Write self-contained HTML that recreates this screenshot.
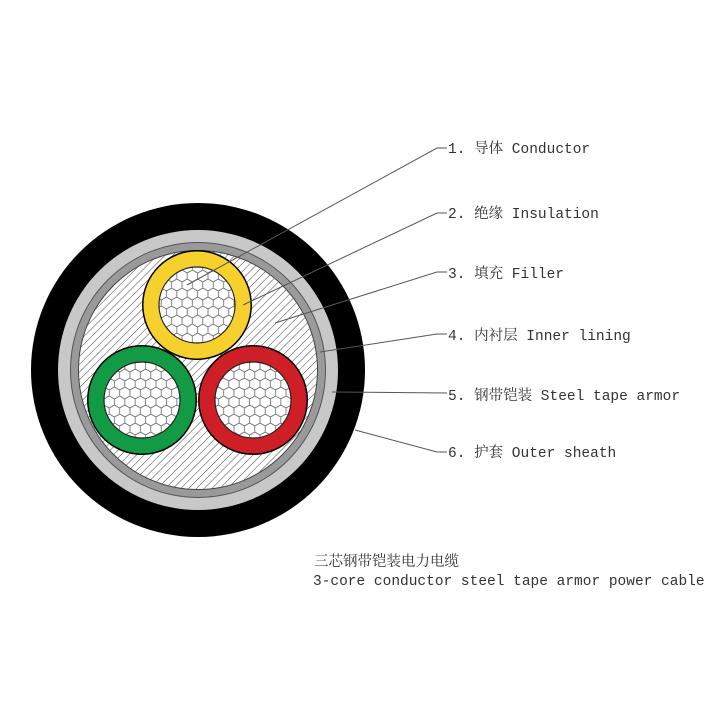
<!DOCTYPE html>
<html><head><meta charset="utf-8"><style>
html,body{margin:0;padding:0;background:#fff;width:720px;height:720px;overflow:hidden}
svg{display:block}
text{font-family:"Liberation Mono","Noto Serif CJK SC","Noto Sans CJK SC",monospace;fill:#333;font-size:14.5px}
</style></head><body>
<svg width="720" height="720" viewBox="0 0 720 720" xmlns="http://www.w3.org/2000/svg">
<defs>
<pattern id="hatch" width="5.5" height="5.5" patternUnits="userSpaceOnUse" patternTransform="rotate(45)">
<rect width="5.5" height="5.5" fill="#fff"/>
<line x1="0" y1="0" x2="0" y2="5.5" stroke="#444" stroke-width="1"/>
</pattern>
<pattern id="hex" width="10.4" height="18" patternUnits="userSpaceOnUse">
<rect width="10.4" height="18" fill="#fff"/>
<path d="M5.2,0 L10.4,3 L10.4,9 L5.2,12 L0,9 L0,3 Z M5.2,12 L5.2,18" fill="none" stroke="#666" stroke-width="0.8"/>
</pattern>
</defs>
<circle cx="198" cy="370" r="167" fill="#000"/>
<circle cx="198" cy="370" r="140" fill="#c8c8c8"/>
<circle cx="198" cy="370" r="128" fill="#555"/>
<circle cx="198" cy="370" r="127" fill="#9a9a9a"/>
<circle cx="198" cy="370" r="120" fill="#444"/>
<circle cx="198" cy="370" r="119" fill="url(#hatch)"/>
<circle cx="197" cy="305" r="55" fill="#000"/>
<circle cx="197" cy="305" r="53.5" fill="#f6d02c"/>
<circle cx="197" cy="305" r="38" fill="url(#hex)" stroke="#222" stroke-width="1.2"/>
<circle cx="142" cy="400" r="55" fill="#000"/>
<circle cx="142" cy="400" r="53.5" fill="#139a44"/>
<circle cx="142" cy="400" r="38" fill="url(#hex)" stroke="#222" stroke-width="1.2"/>
<circle cx="253" cy="400" r="55" fill="#000"/>
<circle cx="253" cy="400" r="53.5" fill="#cf1f26"/>
<circle cx="253" cy="400" r="38" fill="url(#hex)" stroke="#222" stroke-width="1.2"/>
<g stroke="#555" stroke-width="1" fill="none">
<polyline points="187,285 437,148 447,148"/>
<polyline points="243,305 437,213 447,213"/>
<polyline points="275,323 437,272 447,272"/>
<polyline points="320,352 437,334 447,334"/>
<polyline points="332,392 447,393"/>
<polyline points="355,430 437,452 447,452"/>
</g>
<text x="448" y="153">1. 导体 Conductor</text>
<text x="448" y="218">2. 绝缘 Insulation</text>
<text x="448" y="278">3. 填充 Filler</text>
<text x="448" y="340">4. 内衬层 Inner lining</text>
<text x="448" y="400">5. 钢带铠装 Steel tape armor</text>
<text x="448" y="457">6. 护套 Outer sheath</text>
<text x="314" y="566">三芯钢带铠装电力电缆</text>
<text x="313" y="585">3-core conductor steel tape armor power cable</text>
</svg>
</body></html>
